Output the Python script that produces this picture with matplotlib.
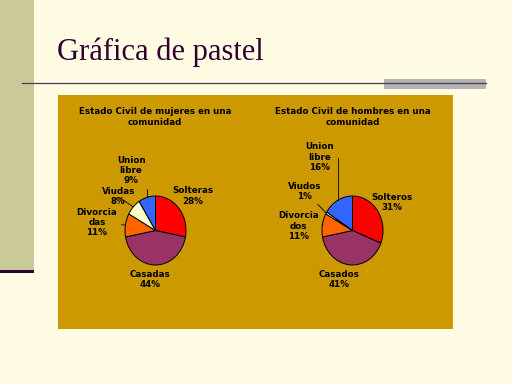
import numpy as np
import matplotlib
matplotlib.use('Agg')
import matplotlib.pyplot as plt
from matplotlib.patches import Rectangle

# Data
mujeres_labels = ['Solteras', 'Casadas', 'Divorcia\ndas', 'Viudas', 'Union\nlibre']
mujeres_values = [28, 44, 11, 8, 9]
hombres_labels = ['Solteros', 'Casados', 'Divorcia\ndos', 'Viudos', 'Union\nlibre']
hombres_values = [31, 41, 11, 1, 16]
slice_colors = ['#ff0000', '#993366', '#ff6600', '#ffffcc', '#3366ff']

# label positions (pie data coords) and leader line style
mujeres_pos = [(1.23, 1.0), (-0.18, -1.43), (-1.92, 0.22), (-1.22, 0.98), (-0.80, 1.75)]
hombres_pos = [(1.28, 0.80), (-0.43, -1.43), (-1.77, 0.13), (-1.57, 1.14), (-1.08, 2.13)]
leaders = [None, None, 'arc3', 'arc3', 'angle,angleA=0,angleB=90,rad=0']

BG = '#fffce3'
GOLD = '#cc9900'
DARK = '#330033'
FONT = ['Liberation Sans Narrow', 'DejaVu Sans']

W, H = 512, 384
fig = plt.figure(figsize=(W / 100, H / 100), dpi=100, facecolor=BG)

# slide decoration in pixel coords
deco = fig.add_axes([0, 0, 1, 1])
deco.set_xlim(0, W)
deco.set_ylim(H, 0)
deco.axis('off')
deco.add_patch(Rectangle((0, 0), 34, 272, color='#c9c999', lw=0))
deco.add_patch(Rectangle((0, 270), 34, 3, color=DARK, lw=0))
deco.add_patch(Rectangle((384, 79), 102, 10, color='#b3b3b3', lw=0))
deco.plot([22, 486], [83, 83], color='#4d3a4d', lw=0.9)
deco.add_patch(Rectangle((58, 95), 395, 234, color=GOLD, lw=0))
deco.text(57, 60, 'Gráfica de pastel', family='Liberation Serif', fontsize=22,
          color=DARK, va='baseline', ha='left')

deco.text(155, 117, 'Estado Civil de mujeres en una\ncomunidad', family=FONT,
          fontweight='bold', fontsize=6.3, ha='center', va='center', linespacing=1.2)
deco.text(353, 117, 'Estado Civil de hombres en una\ncomunidad', family=FONT,
          fontweight='bold', fontsize=6.3, ha='center', va='center', linespacing=1.2)


def draw_pie(left_px, labels, values, positions):
    ax = fig.add_axes([left_px / W, (H - 265) / H, 61 / W, 69 / H])
    wedges, _ = ax.pie(values, colors=slice_colors, startangle=90, counterclock=False,
                       wedgeprops=dict(edgecolor='black', linewidth=0.7))
    ax.set_aspect('auto')
    ax.set_xlim(-1, 1)
    ax.set_ylim(-1, 1)
    total = sum(values)
    for w, lab, v, pos, lead in zip(wedges, labels, values, positions, leaders):
        mid = np.deg2rad((w.theta1 + w.theta2) / 2)
        txt = f'{lab}\n{round(100 * v / total)}%'
        kw = {}
        if lead:
            kw['arrowprops'] = dict(arrowstyle='-', color='black', lw=0.6,
                                    shrinkA=1, shrinkB=0, connectionstyle=lead)
        ax.annotate(txt, xy=(np.cos(mid), np.sin(mid)), xytext=pos,
                    ha='center', va='center', family=FONT, fontweight='bold',
                    fontsize=6.3, linespacing=1.15, annotation_clip=False, **kw)


draw_pie(125, mujeres_labels, mujeres_values, mujeres_pos)
draw_pie(322, hombres_labels, hombres_values, hombres_pos)

fig.savefig('out.png', dpi=100, facecolor=BG)
